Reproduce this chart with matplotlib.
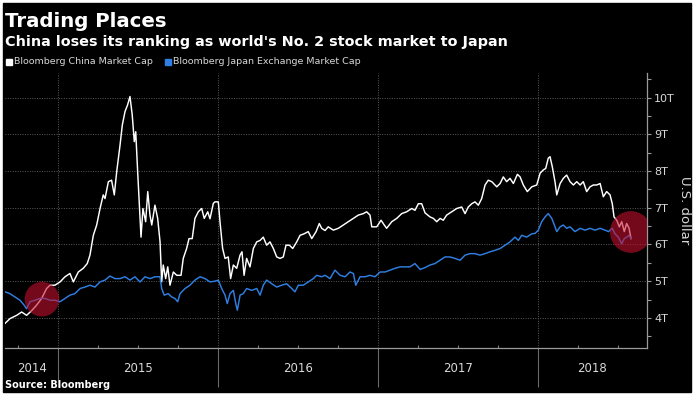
import numpy as np
import matplotlib
matplotlib.use('Agg')
import matplotlib.pyplot as plt
from matplotlib.patches import Rectangle

# dates as fractional years, values in trillions of US dollars
china_dates = [
    2014.669, 2014.700, 2014.742, 2014.773, 2014.804, 2014.836, 2014.867, 2014.898, 2014.929, 2014.950,
    2014.981, 2015.013, 2015.044, 2015.075, 2015.096, 2015.127, 2015.158, 2015.183, 2015.200, 2015.221,
    2015.242, 2015.263, 2015.283, 2015.294, 2015.315, 2015.335, 2015.352, 2015.367, 2015.388, 2015.402,
    2015.419, 2015.435, 2015.450, 2015.464, 2015.477, 2015.486, 2015.498, 2015.511, 2015.519, 2015.531,
    2015.548, 2015.561, 2015.575, 2015.586, 2015.606, 2015.623, 2015.638, 2015.648, 2015.658, 2015.673,
    2015.686, 2015.700, 2015.721, 2015.742, 2015.769, 2015.783, 2015.804, 2015.819, 2015.839, 2015.856,
    2015.877, 2015.898, 2015.914, 2015.936, 2015.950, 2015.971, 2015.981, 2016.002, 2016.013, 2016.029,
    2016.044, 2016.064, 2016.079, 2016.096, 2016.117, 2016.138, 2016.150, 2016.163, 2016.179, 2016.200,
    2016.221, 2016.242, 2016.263, 2016.283, 2016.304, 2016.325, 2016.346, 2016.367, 2016.388, 2016.408,
    2016.425, 2016.446, 2016.467, 2016.492, 2016.513, 2016.538, 2016.564, 2016.586, 2016.613, 2016.633,
    2016.648, 2016.669, 2016.689, 2016.721, 2016.752, 2016.783, 2016.814, 2016.846, 2016.877, 2016.908,
    2016.929, 2016.950, 2016.961, 2016.992, 2017.019, 2017.039, 2017.054, 2017.086, 2017.117, 2017.148,
    2017.179, 2017.211, 2017.231, 2017.252, 2017.273, 2017.294, 2017.325, 2017.346, 2017.367, 2017.388,
    2017.408, 2017.429, 2017.461, 2017.492, 2017.523, 2017.544, 2017.564, 2017.586, 2017.606, 2017.627,
    2017.648, 2017.669, 2017.689, 2017.711, 2017.742, 2017.763, 2017.783, 2017.804, 2017.825, 2017.846,
    2017.871, 2017.888, 2017.908, 2017.933, 2017.961, 2017.992, 2018.013, 2018.033, 2018.048, 2018.064,
    2018.075, 2018.089, 2018.106, 2018.117, 2018.138, 2018.158, 2018.179, 2018.200, 2018.221, 2018.242,
    2018.263, 2018.283, 2018.304, 2018.325, 2018.346, 2018.367, 2018.388, 2018.408, 2018.429, 2018.450,
    2018.464, 2018.475, 2018.492, 2018.508, 2018.523, 2018.539, 2018.554, 2018.569, 2018.581,
]
china_values = [
    3.85, 3.98, 4.07, 4.16, 4.07, 4.20, 4.35, 4.53, 4.80, 4.89,
    4.89, 4.98, 5.12, 5.21, 4.98, 5.25, 5.35, 5.48, 5.71, 6.25,
    6.53, 6.98, 7.35, 7.25, 7.71, 7.75, 7.35, 7.98, 8.71, 9.25,
    9.62, 9.80, 10.03, 9.53, 8.80, 9.07, 7.98, 6.89, 6.20, 6.98,
    6.62, 7.44, 6.80, 6.53, 7.07, 6.71, 6.07, 4.98, 5.44, 5.07,
    5.39, 4.89, 5.25, 5.16, 5.16, 5.62, 5.89, 6.16, 6.16, 6.71,
    6.89, 6.98, 6.71, 6.89, 6.70, 7.12, 7.16, 7.16, 6.60, 5.89,
    5.62, 5.66, 5.07, 5.44, 5.35, 5.71, 5.80, 5.16, 5.62, 5.39,
    5.89, 6.07, 6.11, 6.20, 5.98, 6.07, 5.89, 5.66, 5.62, 5.66,
    5.98, 5.98, 5.89, 6.07, 6.25, 6.29, 6.35, 6.16, 6.35, 6.57,
    6.44, 6.38, 6.48, 6.39, 6.44, 6.53, 6.62, 6.71, 6.80, 6.84,
    6.89, 6.80, 6.48, 6.48, 6.66, 6.53, 6.44, 6.62, 6.71, 6.84,
    6.89, 6.98, 6.93, 7.11, 7.11, 6.86, 6.75, 6.71, 6.62, 6.71,
    6.66, 6.80, 6.89, 6.98, 7.02, 6.84, 7.02, 7.11, 7.16, 7.07,
    7.25, 7.62, 7.75, 7.71, 7.57, 7.66, 7.84, 7.71, 7.80, 7.66,
    7.91, 7.84, 7.62, 7.44, 7.57, 7.62, 7.94, 8.03, 8.07, 8.35,
    8.39, 8.12, 7.71, 7.35, 7.66, 7.80, 7.89, 7.71, 7.62, 7.71,
    7.62, 7.71, 7.44, 7.57, 7.62, 7.62, 7.66, 7.30, 7.44, 7.35,
    7.11, 6.75, 6.66, 6.48, 6.62, 6.35, 6.57, 6.44, 6.16,
]

japan_dates = [
    2014.669, 2014.700, 2014.731, 2014.763, 2014.788, 2014.804, 2014.825, 2014.856, 2014.888, 2014.919,
    2014.950, 2014.981, 2015.013, 2015.044, 2015.075, 2015.106, 2015.138, 2015.169, 2015.200, 2015.231,
    2015.263, 2015.294, 2015.325, 2015.356, 2015.388, 2015.419, 2015.450, 2015.481, 2015.513, 2015.544,
    2015.575, 2015.606, 2015.638, 2015.648, 2015.664, 2015.689, 2015.711, 2015.731, 2015.748, 2015.763,
    2015.794, 2015.825, 2015.856, 2015.888, 2015.919, 2015.950, 2015.981, 2016.002, 2016.023, 2016.044,
    2016.058, 2016.075, 2016.096, 2016.113, 2016.121, 2016.138, 2016.158, 2016.179, 2016.211, 2016.242,
    2016.263, 2016.283, 2016.304, 2016.336, 2016.367, 2016.398, 2016.429, 2016.461, 2016.481, 2016.502,
    2016.533, 2016.564, 2016.596, 2016.617, 2016.648, 2016.669, 2016.700, 2016.731, 2016.763, 2016.794,
    2016.825, 2016.846, 2016.861, 2016.888, 2016.919, 2016.950, 2016.981, 2017.013, 2017.044, 2017.075,
    2017.106, 2017.138, 2017.169, 2017.200, 2017.231, 2017.263, 2017.294, 2017.325, 2017.356, 2017.388,
    2017.419, 2017.450, 2017.481, 2017.513, 2017.544, 2017.575, 2017.606, 2017.638, 2017.669, 2017.700,
    2017.731, 2017.763, 2017.794, 2017.825, 2017.856, 2017.877, 2017.898, 2017.929, 2017.961, 2017.981,
    2018.002, 2018.023, 2018.044, 2018.064, 2018.086, 2018.102, 2018.117, 2018.138, 2018.158, 2018.179,
    2018.200, 2018.231, 2018.263, 2018.294, 2018.325, 2018.356, 2018.388, 2018.419, 2018.440, 2018.464,
    2018.481, 2018.502, 2018.523, 2018.539, 2018.554, 2018.569, 2018.581,
]
japan_values = [
    4.71, 4.66, 4.57, 4.48, 4.35, 4.25, 4.44, 4.48, 4.53, 4.53,
    4.48, 4.48, 4.44, 4.53, 4.62, 4.66, 4.80, 4.84, 4.89, 4.84,
    4.98, 5.03, 5.14, 5.07, 5.07, 5.12, 5.03, 5.12, 4.98, 5.12,
    5.07, 5.12, 5.12, 4.80, 4.62, 4.66, 4.57, 4.53, 4.44, 4.66,
    4.80, 4.89, 5.03, 5.12, 5.07, 4.98, 5.00, 5.03, 4.80, 4.62,
    4.39, 4.66, 4.75, 4.35, 4.21, 4.62, 4.66, 4.80, 4.75, 4.80,
    4.62, 4.89, 5.03, 4.93, 4.84, 4.89, 4.93, 4.80, 4.71, 4.89,
    4.89, 4.98, 5.07, 5.16, 5.12, 5.16, 5.07, 5.30, 5.16, 5.12,
    5.25, 5.21, 4.89, 5.12, 5.12, 5.16, 5.12, 5.25, 5.25, 5.30,
    5.35, 5.39, 5.39, 5.39, 5.48, 5.32, 5.37, 5.44, 5.48, 5.57,
    5.66, 5.66, 5.62, 5.57, 5.71, 5.75, 5.75, 5.71, 5.75, 5.80,
    5.84, 5.89, 5.98, 6.07, 6.20, 6.11, 6.25, 6.20, 6.29, 6.30,
    6.39, 6.62, 6.75, 6.84, 6.71, 6.53, 6.35, 6.48, 6.53, 6.44,
    6.48, 6.35, 6.44, 6.39, 6.44, 6.39, 6.44, 6.39, 6.35, 6.44,
    6.29, 6.20, 6.02, 6.16, 6.20, 6.25, 6.16,
]

# highlighted spots (red circles)
highlight_dates = [2014.90, 2018.58]
highlight_values = [4.51, 6.34]
highlight_sizes = [620, 900]

year_labels = ['2014', '2015', '2016', '2017', '2018']
year_label_pos = [2014.835, 2015.5, 2016.5, 2017.5, 2018.34]
year_bounds = [2015, 2016, 2017, 2018]
y_ticks = [4, 5, 6, 7, 8, 9, 10]

W, H = 697, 399
fig = plt.figure(figsize=(W / 100, H / 100), dpi=100)
fig.patch.set_facecolor('white')
fig.patches.append(Rectangle((3 / W, 1 - 392 / H), 688 / W, 389 / H,
                             transform=fig.transFigure, color='black', zorder=-5))

ax = fig.add_axes([5 / W, 1 - 348 / H, 642 / W, 275 / H])
ax.set_facecolor('black')

ax.plot(china_dates, china_values, color='white', lw=1.05, zorder=3)
ax.plot(japan_dates, japan_values, color='#2f7fe3', lw=1.05, zorder=3)
ax.scatter(highlight_dates, highlight_values, s=highlight_sizes,
           color='#c8102e', alpha=0.58, lw=0, zorder=4)

ax.set_xlim(2014.669, 2018.681)
ax.set_ylim(3.18, 10.67)

for s in ['left', 'top']:
    ax.spines[s].set_visible(False)
for s in ['right', 'bottom']:
    ax.spines[s].set_color('#9a9a9a')
    ax.spines[s].set_linewidth(0.9)

# right axis
ax.yaxis.tick_right()
ax.set_yticks(y_ticks)
ax.set_yticklabels([f'{v}T' for v in y_ticks])
ax.set_yticks(np.arange(3.5, 10.6, 1.0), minor=True)
ax.tick_params(axis='y', which='both', colors='#9a9a9a', length=3, width=0.8, pad=2)
ax.tick_params(axis='y', labelcolor='#d8d8d8', labelsize=8)
ax.yaxis.set_label_position('right')
ax.set_ylabel('U.S. dollar', color='#d8d8d8', fontsize=9.5, rotation=270, labelpad=12)

# bottom axis: year separators as long ticks, quarterly minor ticks
ax.set_xticks(year_bounds)
ax.set_xticklabels([])
ax.set_xticks([2014.75, 2015.25, 2015.5, 2015.75, 2016.25, 2016.5, 2016.75,
               2017.25, 2017.5, 2017.75, 2018.25, 2018.5], minor=True)
ax.tick_params(axis='x', which='major', colors='#6a6a6a', length=28, width=0.8, direction='out')
ax.tick_params(axis='x', which='minor', colors='#7a7a7a', length=2.5, width=0.8, direction='in')
for lab, pos in zip(year_labels, year_label_pos):
    ax.text(pos, -0.075, lab, transform=ax.get_xaxis_transform(), ha='center', va='center',
            color='#d8d8d8', fontsize=8.5)

# grid
for v in y_ticks:
    ax.axhline(v, color='#5a5a5a', lw=0.7, ls=(0, (1, 1.5)), zorder=1)
for v in year_bounds:
    ax.axvline(v, color='#5a5a5a', lw=0.7, ls=(0, (1, 1.5)), zorder=1)

# titles, legend, source
fig.text(5 / W, 1 - 27 / H, 'Trading Places', color='white', fontsize=14.2,
         fontweight='bold', va='baseline', ha='left')
fig.text(5 / W, 1 - 46 / H, "China loses its ranking as world's No. 2 stock market to Japan",
         color='white', fontsize=10.4, fontweight='bold', va='baseline', ha='left')

fig.patches.append(Rectangle((6 / W, 1 - 65 / H), 6 / W, 6 / H, transform=fig.transFigure,
                             color='white', zorder=2))
fig.text(14 / W, 1 - 62 / H, 'Bloomberg China Market Cap', color='#d8d8d8', fontsize=6.8,
         va='center', ha='left')
fig.patches.append(Rectangle((165 / W, 1 - 65 / H), 6 / W, 6 / H, transform=fig.transFigure,
                             color='#2f7fe3', zorder=2))
fig.text(173 / W, 1 - 62 / H, 'Bloomberg Japan Exchange Market Cap', color='#d8d8d8', fontsize=6.8,
         va='center', ha='left')

fig.text(5 / W, 1 - 385 / H, 'Source: Bloomberg', color='white', fontsize=7,
         fontweight='bold', va='center', ha='left')

fig.savefig('out.png', dpi=100, facecolor=fig.get_facecolor())
